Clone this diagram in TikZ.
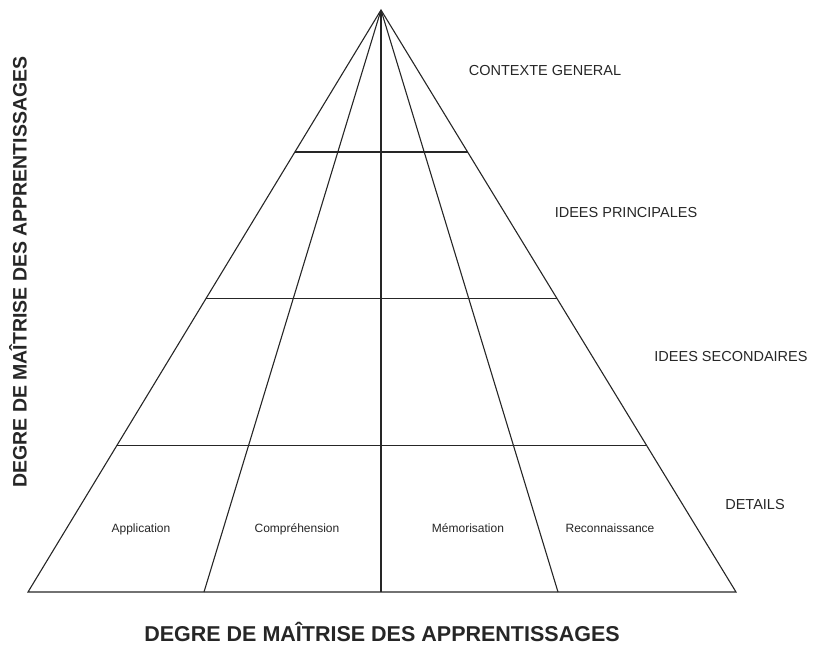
\documentclass[tikz,border=0pt]{standalone}
\usepackage{fontspec}
\setmainfont{Liberation Sans}
\usetikzlibrary{calc}
\begin{document}
\begin{tikzpicture}[x=1pt,y=-1pt,line width=1.1pt,color=black!85,
	niveau/.style={font=\fontsize{14.5}{16}\selectfont},
	savoir/.style={anchor=base,font=\fontsize{12}{14}\selectfont},
	titre/.style={inner sep=0pt,font=\bfseries\fontsize{21.5}{24}\selectfont}]
		\useasboundingbox (0,0) rectangle (827,645);
		\coordinate (S) at (381,10);
		\coordinate (A) at (28,592);
		\coordinate (B) at (736,592);
		\draw (A) -- (S) -- (B) -- cycle;
		\foreach \x in {204,381,558}
		\draw (S) -- (\x,592);
		\foreach \t in {0.244,0.495,0.749}
		\draw ($(S)!\t!(A)$) -- ($(S)!\t!(B)$);
		% niveaux
		\node[niveau] (contexte) at (545,71) {CONTEXTE GENERAL};
		\node[niveau] (principales) at (626,213) {IDEES PRINCIPALES};
		\node[niveau] (secondaires) at (731,357) {IDEES SECONDAIRES};
		\node[niveau] (details) at (755,505) {DETAILS};
		% savoirs
		\node[savoir] (application) at (141,532) {Application};
		\node[savoir] (comprehension) at (297,532) {Compréhension};
		\node[savoir] (memorisation) at (468,532) {Mémorisation};
		\node[savoir] (reconnaissance) at (610,532) {Reconnaissance};
		% axes
		\node[titre,anchor=base] (bas) at (382,641) {DEGRE DE MAÎTRISE DES APPRENTISSAGES};
		\node[titre,rotate=90,font=\bfseries\fontsize{19.5}{22}\selectfont] (gauche) at (18,272) {DEGRE DE MAÎTRISE DES APPRENTISSAGES};
\end{tikzpicture}
\end{document}
